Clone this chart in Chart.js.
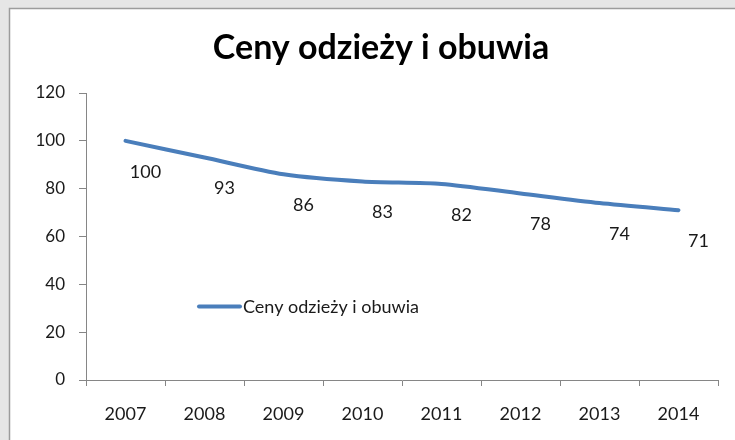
<!DOCTYPE html>
<html>
<head>
<meta charset="utf-8">
<script src="https://cdn.jsdelivr.net/npm/chart.js@4.4.1/dist/chart.umd.min.js"></script>
<style>
  html, body { margin: 0; padding: 0; background: #e6e6e6; }
  #wrap { width: 735px; height: 440px; position: relative; }
</style>
</head>
<body>
<div id="wrap"><canvas id="c" width="735" height="440"></canvas></div>
<script>
const categories = ['2007', '2008', '2009', '2010', '2011', '2012', '2013', '2014'];
const seriesName = 'Ceny odzieży i obuwia';
const values = [100, 93, 86, 83, 82, 78, 74, 71];
const yTicks = [0, 20, 40, 60, 80, 100, 120];
const titleText = 'Ceny odzieży i obuwia';

const FONT = 'Lato, "Open Sans", sans-serif';
const LINE_COLOR = '#4A7EBB';
const AXIS_COLOR = '#868686';
const TEXT_COLOR = '#1a1a1a';

const bgPlugin = {
  id: 'bg',
  beforeDraw(chart) {
    const ctx = chart.ctx;
    ctx.save();
    ctx.fillStyle = '#e6e6e6';
    ctx.fillRect(0, 0, chart.width, chart.height);
    ctx.fillStyle = '#ffffff';
    ctx.fillRect(10, 8, chart.width - 10, chart.height - 8);
    ctx.strokeStyle = '#9c9c9c';
    ctx.lineWidth = 1.5;
    ctx.beginPath();
    ctx.moveTo(9.5, chart.height);
    ctx.lineTo(9.5, 8.5);
    ctx.lineTo(chart.width, 8.5);
    ctx.stroke();
    ctx.restore();
  }
};

const titlePlugin = {
  id: 'customTitle',
  afterDraw(chart) {
    const ctx = chart.ctx;
    ctx.save();
    ctx.font = 'bold 34px ' + FONT;
    ctx.fillStyle = '#000';
    ctx.textAlign = 'center';
    ctx.textBaseline = 'alphabetic';
    ctx.fillText(titleText, 381, 59);
    ctx.restore();
  }
};

const labelPlugin = {
  id: 'pointLabels',
  afterDatasetsDraw(chart) {
    const ctx = chart.ctx;
    const meta = chart.getDatasetMeta(0);
    ctx.save();
    ctx.font = '18px ' + FONT;
    ctx.fillStyle = TEXT_COLOR;
    ctx.textAlign = 'center';
    ctx.textBaseline = 'middle';
    meta.data.forEach((pt, i) => {
      ctx.fillText(String(chart.data.datasets[0].data[i]), pt.x + 20, pt.y + 31);
    });
    ctx.restore();
  }
};

const legendPlugin = {
  id: 'innerLegend',
  afterDatasetsDraw(chart) {
    const ctx = chart.ctx;
    const ds = chart.data.datasets[0];
    ctx.save();
    ctx.strokeStyle = ds.borderColor;
    ctx.lineWidth = 4;
    ctx.lineCap = 'round';
    ctx.beginPath();
    ctx.moveTo(199, 306.5);
    ctx.lineTo(240, 306.5);
    ctx.stroke();
    ctx.font = '18px ' + FONT;
    ctx.fillStyle = TEXT_COLOR;
    ctx.textAlign = 'left';
    ctx.textBaseline = 'middle';
    ctx.fillText(ds.label, 243, 307);
    ctx.restore();
  }
};

new Chart(document.getElementById('c'), {
  type: 'line',
  data: {
    labels: categories,
    datasets: [{
      label: seriesName,
      data: values,
      borderColor: LINE_COLOR,
      borderWidth: 4,
      pointRadius: 0,
      tension: 0.25,
      fill: false,
      borderCapStyle: 'round'
    }]
  },
  options: {
    responsive: false,
    animation: false,
    layout: { padding: { left: 11, right: 17, top: 93, bottom: 0 } },
    plugins: {
      legend: { display: false },
      tooltip: { enabled: false },
      title: { display: false }
    },
    scales: {
      x: {
        type: 'category',
        offset: true,
        grid: { display: true, drawOnChartArea: false, drawTicks: true, tickLength: 6, color: AXIS_COLOR, offset: true },
        border: { display: true, color: AXIS_COLOR, width: 1 },
        ticks: { color: TEXT_COLOR, font: { family: FONT, size: 18 }, padding: 17, maxRotation: 0 },
        afterFit(scale) { scale.height = 60; }
      },
      y: {
        min: 0, max: 120,
        afterBuildTicks(scale) { scale.ticks = yTicks.map(v => ({ value: v })); },
        grid: { display: true, drawOnChartArea: false, drawTicks: true, tickLength: 7, color: AXIS_COLOR },
        border: { display: true, color: AXIS_COLOR, width: 1 },
        ticks: { color: TEXT_COLOR, font: { family: FONT, size: 17 }, padding: 14 },
        afterFit(scale) { scale.width = 75; }
      }
    }
  },
  plugins: [bgPlugin, titlePlugin, labelPlugin, legendPlugin]
});
</script>
</body>
</html>
